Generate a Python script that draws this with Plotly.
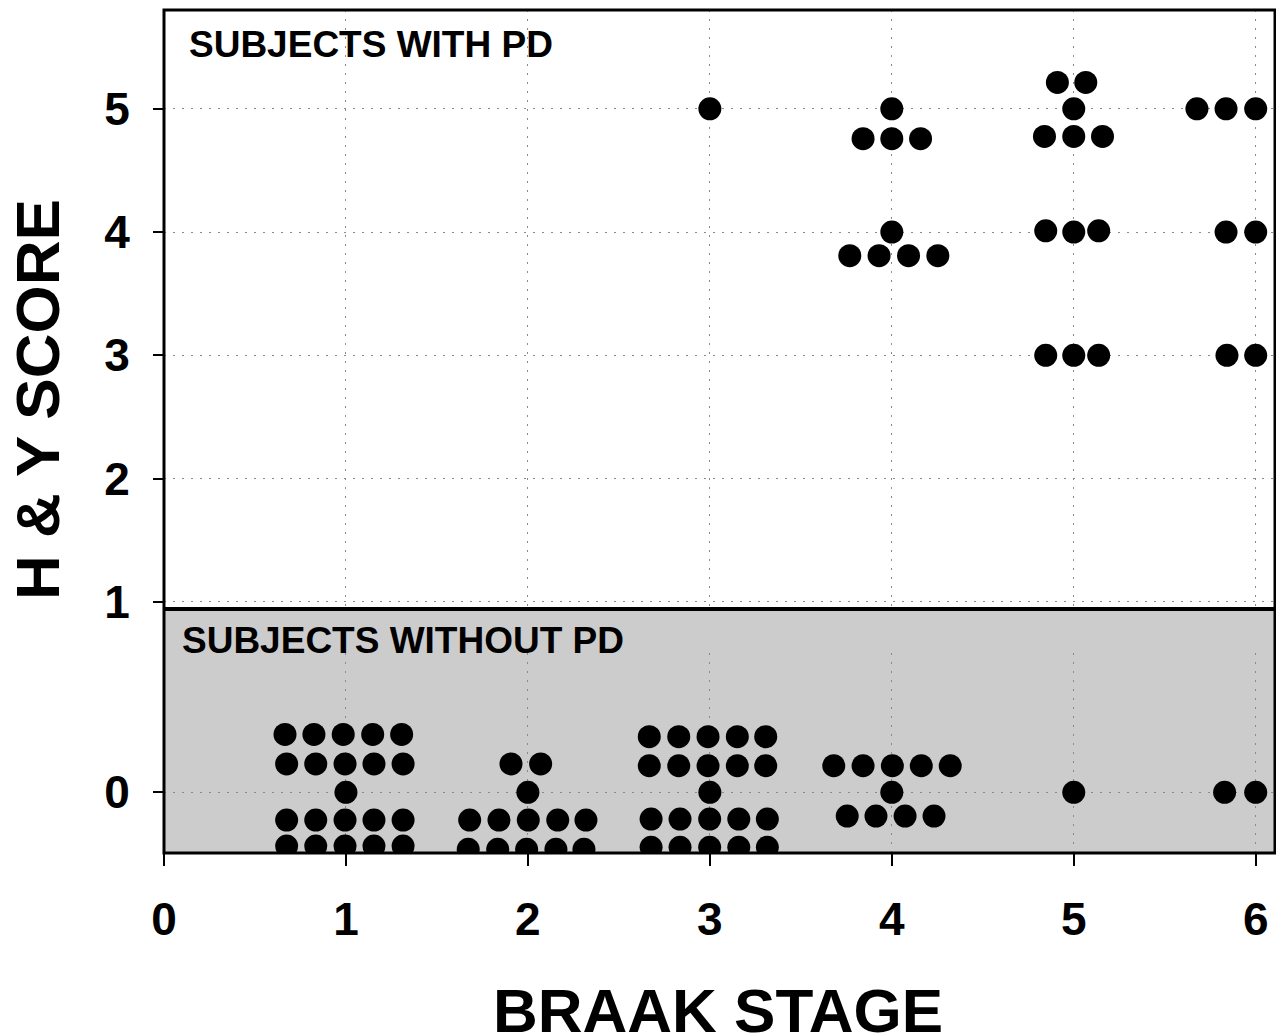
import plotly.graph_objects as go

# ---- data ----
# Subjects with PD: Braak stage (jittered) vs H&Y score (jittered within group)
pd_x = [3.000,
        4.000, 3.842, 4.000, 4.158, 4.000, 3.769, 3.930, 4.092, 4.253,
        4.910, 5.066, 5.000, 4.839, 5.000, 5.158, 4.846, 5.000, 5.137, 4.846, 5.000, 5.137,
        5.677, 5.837, 6.000, 5.837, 6.000, 5.842, 6.000]
pd_y = [5.000,
        5.000, 4.757, 4.757, 4.757, 4.000, 3.808, 3.808, 3.808, 3.808,
        5.214, 5.214, 5.000, 4.776, 4.776, 4.776, 4.010, 4.000, 4.010, 3.000, 3.000, 3.000,
        5.000, 5.000, 5.000, 4.000, 4.000, 3.000, 3.000]

# Subjects without PD (H&Y = 0, stacked)
nopd_x = [0.665, 0.824, 0.985, 1.147, 1.306,
          0.674, 0.834, 0.995, 1.154, 1.314,
          1.000,
          0.674, 0.834, 0.995, 1.154, 1.314,
          0.674, 0.834, 0.995, 1.154, 1.314,
          1.907, 2.070,
          2.000,
          1.680, 1.841, 2.002, 2.164, 2.319,
          1.672, 1.834, 1.993, 2.154, 2.308,
          2.667, 2.829, 2.990, 3.151, 3.307,
          2.667, 2.829, 2.990, 3.151, 3.307,
          3.000,
          2.677, 2.836, 2.999, 3.159, 3.316,
          2.677, 2.836, 2.999, 3.159, 3.316,
          3.681, 3.842, 4.003, 4.162, 4.321,
          4.000,
          3.755, 3.913, 4.073, 4.232,
          5.000,
          5.829, 6.000]
nopd_y = [0.470, 0.470, 0.470, 0.470, 0.470,
          0.230, 0.230, 0.230, 0.230, 0.230,
          0.000,
          -0.225, -0.225, -0.225, -0.225, -0.225,
          -0.436, -0.436, -0.436, -0.436, -0.436,
          0.230, 0.230,
          0.000,
          -0.225, -0.225, -0.225, -0.225, -0.225,
          -0.462, -0.462, -0.462, -0.462, -0.462,
          0.451, 0.451, 0.451, 0.451, 0.451,
          0.216, 0.216, 0.216, 0.216, 0.216,
          0.000,
          -0.217, -0.217, -0.217, -0.217, -0.217,
          -0.446, -0.446, -0.446, -0.446, -0.446,
          0.216, 0.216, 0.216, 0.216, 0.216,
          0.000,
          -0.192, -0.192, -0.192, -0.192,
          0.000,
          0.000, 0.000]

x_ticks = [0, 1, 2, 3, 4, 5, 6]
y_ticks_top = [1, 2, 3, 4, 5]
y_ticks_bottom = [0]

FONT = "Liberation Sans, Arial, sans-serif"
GRID = dict(showgrid=True, gridcolor="#8a8a8a", gridwidth=1, griddash="2px,7px", zeroline=False)

fig = go.Figure()
fig.add_trace(go.Scatter(x=pd_x, y=pd_y, mode="markers", xaxis="x2", yaxis="y2",
                         marker=dict(size=23, color="black", line=dict(width=0)),
                         showlegend=False, hoverinfo="skip"))
fig.add_trace(go.Scatter(x=nopd_x, y=nopd_y, mode="markers", xaxis="x", yaxis="y",
                         marker=dict(size=23, color="black", line=dict(width=0)),
                         showlegend=False, hoverinfo="skip"))

# page body adds an 8px margin; lay out in page pixels minus that offset
OFF = 8
W, H = 1284, 1036
L, R, T, B = 164, 1275, 10, 853          # plot area in page pixels
ml, mt = L - OFF, T - OFF
mr, mb = W - (R - OFF), H - (B - OFF)
pw, ph = R - L, B - T
divider = (B - 609) / ph
bottom_top = (B - 653) / ph

def px(x):
    return (x - L) / pw

def py(y):
    return (B - y) / ph

tickfont = dict(family=FONT, size=46, color="black", weight="bold")

fig.update_layout(
    width=W, height=H,
    margin=dict(l=ml, r=mr, t=mt, b=mb),
    paper_bgcolor="white",
    plot_bgcolor="rgba(0,0,0,0)",
    xaxis=dict(domain=[0, 1], range=[0, 6.106], tickvals=x_ticks,
               ticks="outside", ticklen=12, tickwidth=2, tickcolor="black",
               tickfont=tickfont, ticklabelstandoff=14, showline=False, anchor="y", **GRID),
    yaxis=dict(domain=[0, bottom_top], range=[-0.492, 1.130], tickvals=y_ticks_bottom,
               ticks="outside", ticklen=10, tickwidth=2, tickcolor="black",
               tickfont=tickfont, ticklabelstandoff=14, showline=False, anchor="x", **GRID),
    xaxis2=dict(domain=[0, 1], range=[0, 6.106], tickvals=x_ticks, showticklabels=False,
                ticks="", anchor="y2", matches="x", showline=False, **GRID),
    yaxis2=dict(domain=[divider, 1], range=[0.943, 5.801], tickvals=y_ticks_top,
                ticks="outside", ticklen=10, tickwidth=2, tickcolor="black",
                tickfont=tickfont, ticklabelstandoff=14, showline=False, anchor="x2", **GRID),
    shapes=[
        dict(type="rect", xref="paper", yref="paper", x0=0, x1=1, y0=0, y1=divider,
             fillcolor="#cccccc", line=dict(width=0), layer="below"),
        dict(type="line", xref="paper", yref="paper", x0=0, x1=1, y0=divider, y1=divider,
             line=dict(color="black", width=4), layer="above"),
        dict(type="rect", xref="paper", yref="paper", x0=0, x1=1, y0=0, y1=1,
             line=dict(color="black", width=3), layer="above"),
    ],
    annotations=[
        dict(text="SUBJECTS WITH PD", xref="paper", yref="paper",
             x=px(187), y=py(45), xanchor="left", yanchor="middle",
             showarrow=False, font=dict(family=FONT, size=37, color="black", weight="bold")),
        dict(text="SUBJECTS WITHOUT PD", xref="paper", yref="paper",
             x=px(180), y=py(640), xanchor="left", yanchor="middle",
             showarrow=False, font=dict(family=FONT, size=37, color="black", weight="bold")),
        dict(text="H &amp; Y SCORE", xref="paper", yref="paper",
             x=px(38), y=py(400), xanchor="center", yanchor="middle",
             textangle=-90, showarrow=False,
             font=dict(family=FONT, size=62, color="black", weight="bold")),
        dict(text="BRAAK STAGE", xref="paper", yref="paper",
             x=px(718), y=py(1010), xanchor="center", yanchor="middle",
             showarrow=False, font=dict(family=FONT, size=62, color="black", weight="bold")),
    ],
)

fig.write_html("out.html")
